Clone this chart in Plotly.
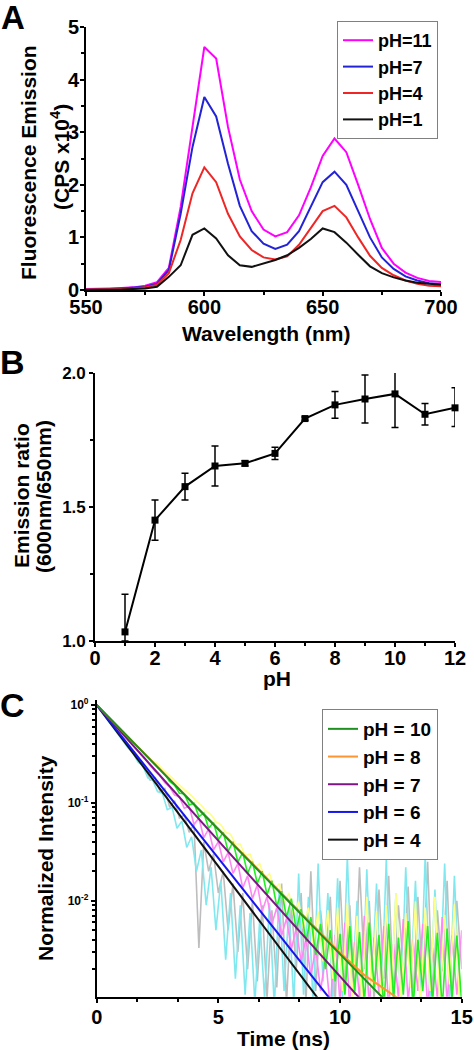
import plotly.graph_objects as go

# ---------------- Panel A: emission spectra ----------------
WAVELENGTH = [550, 555, 560, 565, 570, 575, 580, 585, 590, 595, 600, 605, 610, 615, 620,
              625, 630, 635, 640, 645, 650, 655, 660, 665, 670, 675, 680, 685, 690, 695, 700]
EM_PH11 = [0.02, 0.02, 0.03, 0.04, 0.05, 0.08, 0.15, 0.42, 1.58, 3.10, 4.62, 4.40, 3.10, 2.10, 1.50,
           1.15, 1.02, 1.10, 1.42, 1.95, 2.55, 2.88, 2.62, 2.00, 1.35, 0.80, 0.50, 0.33, 0.23, 0.17, 0.15]
EM_PH7 = [0.01, 0.01, 0.02, 0.03, 0.04, 0.06, 0.12, 0.38, 1.45, 2.72, 3.67, 3.30, 2.40, 1.60, 1.12,
          0.88, 0.78, 0.86, 1.12, 1.58, 2.05, 2.25, 2.00, 1.50, 1.00, 0.62, 0.40, 0.26, 0.18, 0.13, 0.11]
EM_PH4 = [0.01, 0.01, 0.02, 0.02, 0.03, 0.05, 0.10, 0.32, 0.95, 1.84, 2.33, 2.05, 1.45, 1.02, 0.76,
          0.62, 0.58, 0.64, 0.86, 1.18, 1.50, 1.60, 1.38, 1.00, 0.65, 0.42, 0.28, 0.18, 0.12, 0.08, 0.07]
EM_PH1 = [0.00, 0.00, 0.01, 0.01, 0.02, 0.03, 0.06, 0.25, 0.47, 1.05, 1.17, 0.98, 0.66, 0.47, 0.44,
          0.50, 0.57, 0.66, 0.80, 0.97, 1.17, 1.10, 0.90, 0.67, 0.45, 0.32, 0.24, 0.18, 0.14, 0.12, 0.10]
A_NAMES = ["pH=11", "pH=7", "pH=4", "pH=1"]

# ---------------- Panel B: emission ratio vs pH ----------------
PH = [1, 2, 3, 4, 5, 6, 7, 8, 9, 10, 11, 12]
RATIO = [1.034, 1.451, 1.576, 1.653, 1.663, 1.700, 1.830, 1.881, 1.903, 1.922, 1.846, 1.870]
ERR_PLUS = [0.14, 0.075, 0.05, 0.075, 0.01, 0.023, 0.006, 0.05, 0.09, 0.105, 0.04, 0.075]
ERR_MINUS = [0.034, 0.075, 0.05, 0.075, 0.01, 0.023, 0.006, 0.05, 0.09, 0.125, 0.04, 0.07]

# ---------------- Panel C: fluorescence decays ----------------
T_EVEN = [0.0, 0.2, 0.4, 0.6, 0.8, 1.0, 1.2, 1.4, 1.6, 1.8, 2.0, 2.2, 2.4, 2.6, 2.8, 3.0, 3.2, 3.4, 3.6, 3.8,
          4.0, 4.2, 4.4, 4.6, 4.8, 5.0, 5.2, 5.4, 5.6, 5.8, 6.0, 6.2, 6.4, 6.6, 6.8, 7.0, 7.2, 7.4, 7.6, 7.8,
          8.0, 8.2, 8.4, 8.6, 8.8, 9.0, 9.2, 9.4, 9.6, 9.8, 10.0, 10.2, 10.4, 10.6, 10.8, 11.0, 11.2, 11.4,
          11.6, 11.8, 12.0, 12.2, 12.4, 12.6, 12.8, 13.0, 13.2, 13.4, 13.6, 13.8, 14.0, 14.2, 14.4, 14.6,
          14.8, 15.0]
T_ODD = [0.1, 0.3, 0.5, 0.7, 0.9, 1.1, 1.3, 1.5, 1.7, 1.9, 2.1, 2.3, 2.5, 2.7, 2.9, 3.1, 3.3, 3.5, 3.7, 3.9,
         4.1, 4.3, 4.5, 4.7, 4.9, 5.1, 5.3, 5.5, 5.7, 5.9, 6.1, 6.3, 6.5, 6.7, 6.9, 7.1, 7.3, 7.5, 7.7, 7.9,
         8.1, 8.3, 8.5, 8.7, 8.9, 9.1, 9.3, 9.5, 9.7, 9.9, 10.1, 10.3, 10.5, 10.7, 10.9, 11.1, 11.3, 11.5,
         11.7, 11.9, 12.1, 12.3, 12.5, 12.7, 12.9, 13.1, 13.3, 13.5, 13.7, 13.9, 14.1, 14.3, 14.5, 14.7, 14.9]

RAW_GRAY = [1.0, 0.87, 0.75, 0.65, 0.56, 0.49, 0.42, 0.36, 0.31, 0.27, 0.22, 0.17, 0.18, 0.13, 0.14, 0.09,
            0.105, 0.07, 0.075, 0.05, 0.06, 0.0033, 0.04, 0.02, 0.03, 0.012, 0.02, 0.005, 0.015, 0.003,
            0.012, 0.002, 0.010, 0.0015, 0.009, 0.001, 0.008, 0.0013, 0.015, 0.0009, 0.009, 0.002, 0.012,
            0.0009, 0.02, 0.0012, 0.008, 0.0025, 0.011, 0.0009, 0.016, 0.0015, 0.009, 0.0011, 0.022, 0.002,
            0.01, 0.0009, 0.013, 0.0016, 0.018, 0.001, 0.009, 0.0022, 0.014, 0.0009, 0.011, 0.0014, 0.025,
            0.0011, 0.008, 0.0019, 0.016, 0.0009, 0.01, 0.002]
RAW_CYAN = [0.92, 0.79, 0.68, 0.58, 0.50, 0.43, 0.36, 0.32, 0.26, 0.24, 0.18, 0.17, 0.13, 0.125, 0.085,
            0.09, 0.055, 0.065, 0.035, 0.045, 0.02, 0.033, 0.009, 0.022, 0.005, 0.016, 0.0025, 0.012,
            0.0016, 0.009, 0.0011, 0.0075, 0.0009, 0.0065, 0.001, 0.0095, 0.0008, 0.013, 0.0012, 0.0085,
            0.0009, 0.019, 0.0011, 0.011, 0.0008, 0.024, 0.0015, 0.012, 0.0009, 0.017, 0.001, 0.028, 0.0013,
            0.01, 0.0008, 0.021, 0.0012, 0.015, 0.0009, 0.026, 0.0011, 0.012, 0.0008, 0.022, 0.0014, 0.016,
            0.0009, 0.029, 0.001, 0.013, 0.0012, 0.024, 0.0009, 0.018, 0.0011]
RAW_PINK = [1.0, 0.88, 0.77, 0.68, 0.60, 0.53, 0.46, 0.41, 0.36, 0.31, 0.28, 0.24, 0.21, 0.19, 0.16, 0.145,
            0.12, 0.115, 0.088, 0.092, 0.060, 0.070, 0.044, 0.054, 0.033, 0.040, 0.025, 0.031, 0.019, 0.024,
            0.0135, 0.018, 0.0105, 0.0145, 0.0078, 0.011, 0.0058, 0.0085, 0.0044, 0.0066, 0.0032, 0.0052,
            0.0024, 0.0041, 0.0017, 0.0033, 0.0012, 0.0027, 0.0008, 0.0045, 0.0009, 0.006, 0.0008, 0.0038,
            0.001, 0.007, 0.0008, 0.0042, 0.0011, 0.0055, 0.0008, 0.0036, 0.001, 0.0065, 0.0009, 0.004,
            0.0012, 0.0058, 0.0008, 0.0033, 0.001, 0.0068, 0.0009, 0.0044, 0.0011, 0.005]
RAW_YELLOW = [0.94, 0.84, 0.75, 0.67, 0.59, 0.53, 0.47, 0.42, 0.37, 0.33, 0.30, 0.27, 0.25, 0.22, 0.20,
              0.18, 0.16, 0.145, 0.13, 0.118, 0.104, 0.094, 0.082, 0.076, 0.064, 0.060, 0.050, 0.048, 0.038,
              0.038, 0.029, 0.030, 0.022, 0.024, 0.017, 0.019, 0.013, 0.015, 0.0095, 0.012, 0.007, 0.0098,
              0.0052, 0.0085, 0.0036, 0.0078, 0.0024, 0.008, 0.0016, 0.0085, 0.0012, 0.0095, 0.001, 0.007,
              0.0009, 0.011, 0.0012, 0.0078, 0.0008, 0.009, 0.0011, 0.012, 0.0009, 0.0075, 0.0013, 0.0098,
              0.0008, 0.0085, 0.0012, 0.011, 0.0009, 0.0072, 0.0014, 0.0092, 0.001]
RAW_GREEN = [1.0, 0.89, 0.79, 0.70, 0.63, 0.56, 0.50, 0.44, 0.39, 0.35, 0.31, 0.28, 0.245, 0.22, 0.195,
             0.165, 0.152, 0.125, 0.124, 0.095, 0.099, 0.072, 0.079, 0.055, 0.063, 0.042, 0.050, 0.032,
             0.040, 0.025, 0.031, 0.019, 0.025, 0.015, 0.020, 0.0115, 0.016, 0.0088, 0.0125, 0.0068, 0.0105,
             0.005, 0.0082, 0.0038, 0.0068, 0.0028, 0.0058, 0.002, 0.005, 0.0015, 0.0046, 0.0011, 0.0055,
             0.0012, 0.0048, 0.0009, 0.006, 0.0013, 0.0045, 0.0008, 0.0058, 0.001, 0.0042, 0.0011, 0.0062,
             0.0008, 0.004, 0.0012, 0.0055, 0.0009, 0.0047, 0.0008, 0.0052, 0.001, 0.0044, 0.0009]

FIT_PH4_T, FIT_PH4_Y = [0.0, 9.10], [1.0, 0.001]
FIT_PH6_T, FIT_PH6_Y = [0.0, 9.58], [1.0, 0.001]
FIT_PH7_T, FIT_PH7_Y = [0.0, 10.82], [1.0, 0.001]
FIT_PH8_T, FIT_PH8_Y = [0.0, 10.0, 11.0, 12.4], [1.0, 0.00295, 0.00174, 0.001]
FIT_PH10_T, FIT_PH10_Y = [0.0, 11.79], [1.0, 0.001]

W, H = 474, 1050
FONT = "Liberation Sans, Arial, sans-serif"


def px(x):
    return x / W


def py(y):
    return 1 - y / H


fig = go.Figure()

# Panel A traces
for name, ys, col in zip(A_NAMES, [EM_PH11, EM_PH7, EM_PH4, EM_PH1],
                         ["#ff00ff", "#2323d6", "#ee2626", "#111111"]):
    fig.add_trace(go.Scatter(x=WAVELENGTH, y=ys, mode="lines", name=name,
                             line=dict(color=col, width=2), xaxis="x", yaxis="y", legend="legend"))

# Panel B
fig.add_trace(go.Scatter(x=PH, y=RATIO, mode="lines+markers", showlegend=False,
                         line=dict(color="black", width=2),
                         marker=dict(symbol="square", size=7, color="black"),
                         error_y=dict(type="data", array=ERR_PLUS, arrayminus=ERR_MINUS, symmetric=False,
                                      color="black", thickness=1.5, width=3.5),
                         cliponaxis=False, xaxis="x2", yaxis="y2"))

# Panel C raw data
for t, ys, col in [(T_EVEN, RAW_GRAY, "#bdbdbd"), (T_ODD, RAW_CYAN, "#80e8ee"),
                   (T_EVEN, RAW_PINK, "#ff88f4"), (T_ODD, RAW_YELLOW, "#ffff88"),
                   (T_EVEN, RAW_GREEN, "#22f022")]:
    fig.add_trace(go.Scatter(x=t, y=ys, mode="lines", showlegend=False, hoverinfo="skip",
                             line=dict(color=col, width=1.6), xaxis="x3", yaxis="y3"))

# Panel C fits
for name, t, ys, col in [("pH = 4", FIT_PH4_T, FIT_PH4_Y, "#111111"),
                         ("pH = 6", FIT_PH6_T, FIT_PH6_Y, "#1515f0"),
                         ("pH = 7", FIT_PH7_T, FIT_PH7_Y, "#7d1585"),
                         ("pH = 8", FIT_PH8_T, FIT_PH8_Y, "#ff9430"),
                         ("pH = 10", FIT_PH10_T, FIT_PH10_Y, "#1f8f1f")]:
    fig.add_trace(go.Scatter(x=t, y=ys, mode="lines", name=name, line=dict(color=col, width=2),
                             xaxis="x3", yaxis="y3", legend="legend2"))

axis_common = dict(showline=True, linecolor="black", linewidth=1.6, ticks="outside", ticklen=4,
                   tickwidth=1.5, tickcolor="black", showgrid=False, zeroline=False, automargin=False,
                   tickfont=dict(family=FONT, size=20, color="black", weight="bold"))

fig.update_layout(
    template="none",
    width=W, height=H, margin=dict(l=0, r=0, t=0, b=0, pad=0, autoexpand=False),
    paper_bgcolor="white", plot_bgcolor="white", showlegend=True,
    xaxis=dict(domain=[px(86), px(441)], range=[550, 700], tickvals=[550, 600, 650, 700],
               minor=dict(tickvals=[575, 625, 675], ticks="outside", ticklen=3, tickcolor="black"),
               ticklabelstandoff=-6, anchor="y", **axis_common),
    yaxis=dict(domain=[py(290), py(27)], range=[0, 5], tickvals=[0, 1, 2, 3, 4, 5],
               minor=dict(dtick=0.5, ticks="outside", ticklen=3, tickcolor="black"),
               ticklabelstandoff=-3, anchor="x", **axis_common),
    xaxis2=dict(domain=[px(95), px(455)], range=[0, 12], dtick=2,
                minor=dict(dtick=1, ticks="outside", ticklen=3, tickcolor="black"),
                ticklabelstandoff=-6, anchor="y2", **axis_common),
    yaxis2=dict(domain=[py(641), py(373)], range=[1, 2], tickvals=[1.0, 1.5, 2.0],
                ticktext=["1.0", "1.5", "2.0"],
                minor=dict(dtick=0.25, ticks="outside", ticklen=3, tickcolor="black"),
                anchor="x2", **{**axis_common, "tickfont": dict(family=FONT, size=17, color="black",
                                                                weight="bold")}),
    xaxis3=dict(domain=[px(96.7), px(461.7)], range=[0, 15], tickvals=[0, 5, 10, 15],
                minor=dict(dtick=5 / 3, ticks="outside", ticklen=3, tickcolor="black"),
                ticklabelstandoff=-3, anchor="y3", **axis_common),
    yaxis3=dict(domain=[py(996.7), py(700)], type="log", range=[-2.98, 0.05],
                tickvals=[1, 0.1, 0.01], ticktext=["10<sup>0</sup>", "10<sup>-1</sup>", "10<sup>-2</sup>"],
                minor=dict(dtick="D1", ticks="outside", ticklen=3, tickcolor="black"),
                anchor="x3", **{**axis_common, "tickfont": dict(family=FONT, size=12, color="black",
                                                                weight="bold")}),
    legend=dict(x=px(337), y=py(21), xanchor="left", yanchor="top", bgcolor="white",
                bordercolor="#808080", borderwidth=1, font=dict(family=FONT, size=18, color="black",
                                                                 weight="bold")),
    legend2=dict(x=px(322), y=py(709), xanchor="left", yanchor="top", bgcolor="white",
                 traceorder="reversed",
                 bordercolor="#808080", borderwidth=1, font=dict(family=FONT, size=19, color="black",
                                                                  weight="bold")),
)

ann = []


def label(text, x, y, size=21, angle=0):
    ann.append(dict(text=text, x=px(x), y=py(y), xref="paper", yref="paper", showarrow=False,
                    xanchor="center", yanchor="middle", textangle=angle,
                    font=dict(family=FONT, size=size, color="black", weight="bold")))


label("A", 13, 17, size=33)
label("B", 12, 362, size=34)
label("C", 12, 705, size=34)
label("Fluorescence Emission", 29, 163, angle=-90)
label("(CPS x10<sup>4</sup>)", 60, 157, angle=-90)
label("Wavelength (nm)", 266, 333)
label("Emission ratio", 22, 496, angle=-90)
label("(600nm/650nm)", 43, 497, angle=-90)
label("pH", 277, 678)
label("Normalized Intensity", 45, 858, angle=-90)
label("Time (ns)", 283, 1038)
fig.update_layout(annotations=ann)

fig.write_html("out.html", config={"displayModeBar": False},
               post_script="document.body.style.margin='0px';")
